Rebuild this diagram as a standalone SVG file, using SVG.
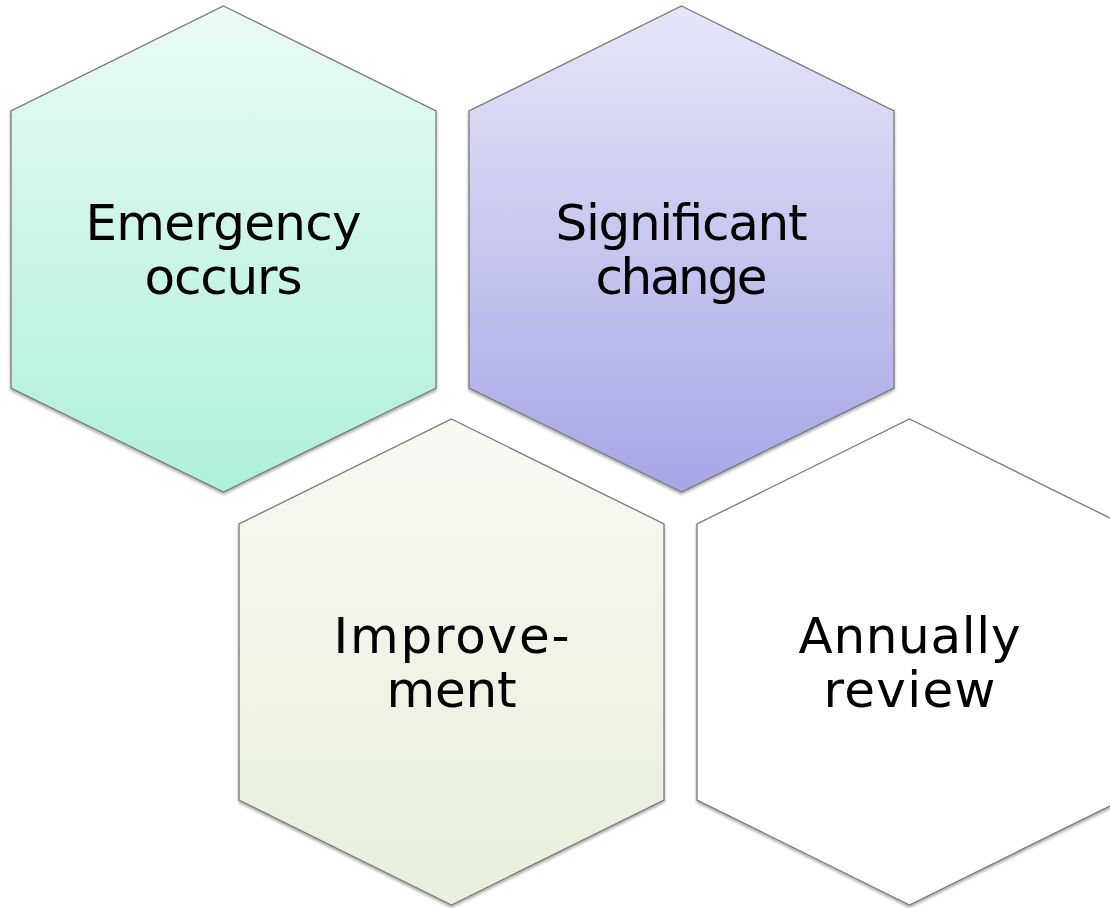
<svg xmlns="http://www.w3.org/2000/svg" width="1110" height="908" viewBox="0 0 1110 908">
<defs>
<linearGradient id="g1" x1="0" y1="0" x2="0" y2="1"><stop offset="0" stop-color="#eafbf4"/><stop offset="1" stop-color="#aef0da"/></linearGradient>
<linearGradient id="g2" x1="0" y1="0" x2="0" y2="1"><stop offset="0" stop-color="#e6e6f8"/><stop offset="1" stop-color="#a6a6e6"/></linearGradient>
<linearGradient id="g3" x1="0" y1="0" x2="0" y2="1"><stop offset="0" stop-color="#f7f9f2"/><stop offset="1" stop-color="#e8efdc"/></linearGradient>
<linearGradient id="g4" x1="0" y1="0" x2="0" y2="1"><stop offset="0" stop-color="#ffffff"/><stop offset="1" stop-color="#ffffff"/></linearGradient>
<filter id="sh" x="-5%" y="-5%" width="110%" height="110%"><feGaussianBlur in="SourceAlpha" stdDeviation="1.5"/><feOffset dx="0" dy="2" result="b"/><feComponentTransfer><feFuncA type="linear" slope="0.35"/></feComponentTransfer><feMerge><feMergeNode/><feMergeNode in="SourceGraphic"/></feMerge></filter>
</defs>
<style>
.hex{stroke:#7a7a7a;stroke-width:1.3;filter:url(#sh)}
.lbl{font-family:"DejaVu Sans",Verdana,sans-serif;font-size:50px;fill:#000;text-anchor:middle}
</style>
<rect width="1110" height="908" fill="#ffffff"/>
<g id="connectors"></g>
<g id="node-emergency">
<polygon class="hex" fill="url(#g1)" points="223.5,6 436,111 436,388 223.5,492 11,388 11,111"/>
<text class="lbl" x="223.5" y="240" textLength="276" lengthAdjust="spacing">Emergency</text>
<text class="lbl" x="223.5" y="294" textLength="158" lengthAdjust="spacing">occurs</text>
</g>
<g id="node-significant">
<polygon class="hex" fill="url(#g2)" points="681.5,6 894,111 894,388 681.5,492 469,388 469,111"/>
<text class="lbl" x="681.5" y="240" textLength="252" lengthAdjust="spacing">Significant</text>
<text class="lbl" x="681.5" y="294" textLength="172" lengthAdjust="spacing">change</text>
</g>
<g id="node-improvement">
<polygon class="hex" fill="url(#g3)" points="451.5,419 664,524 664,800 451.5,905 239,800 239,524"/>
<text class="lbl" x="451.5" y="653" textLength="236" lengthAdjust="spacing">Improve-</text>
<text class="lbl" x="451.5" y="707" textLength="130" lengthAdjust="spacing">ment</text>
</g>
<g id="node-annually">
<polygon class="hex" fill="url(#g4)" points="909.5,419 1122,524 1122,800 909.5,905 697,800 697,524"/>
<text class="lbl" x="909.5" y="653" textLength="222" lengthAdjust="spacing">Annually</text>
<text class="lbl" x="909.5" y="707" textLength="172" lengthAdjust="spacing">review</text>
</g>
</svg>
